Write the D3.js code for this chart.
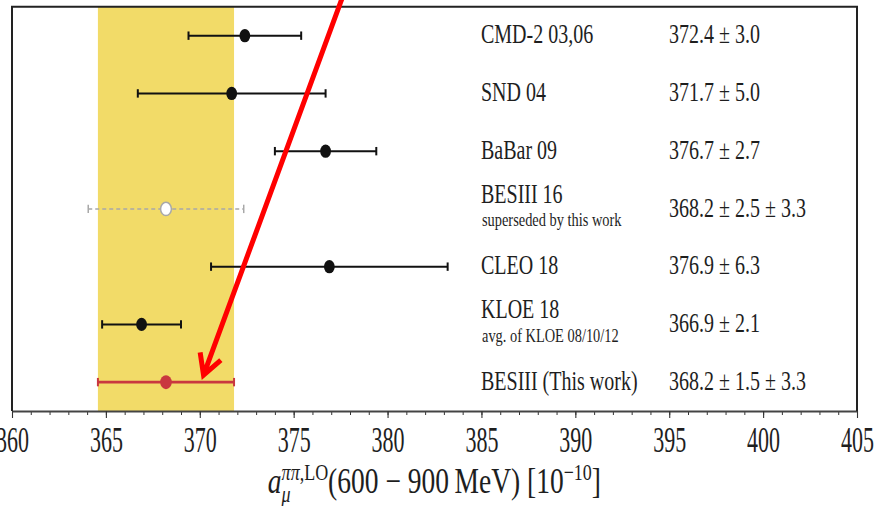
<!DOCTYPE html>
<html>
<head>
<meta charset="utf-8">
<script src="https://cdn.jsdelivr.net/npm/d3@7"></script>
<style>
  body { margin: 0; background: #fff; }
  svg { display: block; }
  text { font-family: "Liberation Serif", "DejaVu Serif", serif; fill: #1e1e1e; }
</style>
</head>
<body>
<div id="visualize"></div>
<script>
// chart values
var experiments = ["CMD-2 03,06", "SND 04", "BaBar 09", "BESIII 16", "CLEO 18", "KLOE 18", "BESIII (This work)"];
var notes = ["", "", "", "superseded by this work", "", "avg. of KLOE 08/10/12", ""];
var centralValues = [372.4, 371.7, 376.7, 368.2, 376.9, 366.9, 368.2];
var statErrors = [3.0, 5.0, 2.7, 2.5, 6.3, 2.1, 1.5];
var systErrors = [null, null, null, 3.3, null, null, 3.3];
var markerStyle = ["solid", "solid", "solid", "open", "solid", "solid", "red"];
var xTickValues = [360, 365, 370, 375, 380, 385, 390, 395, 400, 405];
var xMinorValues = d3.range(360, 406, 1);
// annotation arrow in data units [value, row]
var arrowFrom = [377.75, -0.8];
var arrowTo = [370.2, 5.88];

function totalError(i) {
  var s = statErrors[i], y = systErrors[i] || 0;
  return Math.sqrt(s * s + y * y);
}

function valueLabel(i) {
  var t = centralValues[i].toFixed(1) + " \u00b1 " + statErrors[i].toFixed(1);
  if (systErrors[i] != null) t += " \u00b1 " + systErrors[i].toFixed(1);
  return t;
}

function drawChart() {
  var width = 877, height = 506;
  var left = 12, right = 857, top = 6.8, bottom = 411;

  var rows = experiments.map(function(d, i) {
    return { name: d, note: notes[i], v: centralValues[i], err: totalError(i), style: markerStyle[i], label: valueLabel(i), i: i };
  });

  var x = d3.scaleLinear().domain([360, 405]).range([left, right]);
  var y = d3.scaleLinear().domain([-0.5, 6.5]).range([top, bottom]);

  var svg = d3.select("#visualize").append("svg")
      .attr("width", width)
      .attr("height", height);

  svg.append("rect").attr("width", width).attr("height", height).attr("fill", "#fff");

  // band of this work
  var ref = rows[rows.length - 1];
  svg.append("rect")
      .attr("x", x(ref.v - ref.err))
      .attr("y", top)
      .attr("width", x(ref.v + ref.err) - x(ref.v - ref.err))
      .attr("height", bottom - top)
      .attr("fill", "#f2db68");

  // error bars
  var bars = svg.selectAll(".bar")
      .data(rows)
    .enter().append("g")
      .attr("class", "bar")
      .attr("transform", function(d) { return "translate(0," + y(d.i) + ")"; });

  function barColor(d) {
    if (d.style == "open") return "#a8a8a8";
    if (d.style == "red") return "#c9383f";
    return "#111";
  }

  bars.append("line")
      .attr("x1", function(d) { return x(d.v - d.err); })
      .attr("x2", function(d) { return x(d.v + d.err); })
      .attr("stroke", barColor)
      .attr("stroke-width", function(d) { return d.style == "red" ? 2.6 : (d.style == "open" ? 1.5 : 2); })
      .attr("stroke-dasharray", function(d) { return d.style == "open" ? "4,3" : null; });

  [-1, 1].forEach(function(s) {
    bars.append("line")
        .attr("x1", function(d) { return x(d.v + s * d.err); })
        .attr("x2", function(d) { return x(d.v + s * d.err); })
        .attr("y1", -4.2)
        .attr("y2", 4.2)
        .attr("stroke", barColor)
        .attr("stroke-width", function(d) { return d.style == "open" ? 1.5 : 2; });
  });

  bars.append("ellipse")
      .attr("cx", function(d) { return x(d.v); })
      .attr("rx", function(d) { return d.style == "red" ? 5.8 : 5.4; })
      .attr("ry", function(d) { return d.style == "red" ? 7 : 6.7; })
      .attr("fill", function(d) { return d.style == "open" ? "#fff" : barColor(d); })
      .attr("stroke", function(d) { return d.style == "open" ? "#a8a8a8" : "none"; })
      .attr("stroke-width", 1.5);

  // labels
  var sy = 1.36;
  bars.append("text")
      .attr("transform", function(d) { return "translate(481," + (d.note ? -6 : 7.5) + ") scale(1," + sy + ")"; })
      .style("font-size", "20px")
      .text(function(d) { return d.name; });

  bars.filter(function(d) { return d.note; }).append("text")
      .attr("transform", "translate(482,17.5) scale(1," + sy + ")")
      .style("font-size", "14.4px")
      .text(function(d) { return d.note; });

  bars.append("text")
      .attr("transform", "translate(669,7.8) scale(1," + sy + ")")
      .style("font-size", "20px")
      .text(function(d) { return d.label; });

  // axis
  var xAxis = d3.axisBottom(x).tickValues(xTickValues).tickSize(7).tickSizeOuter(0).tickFormat(d3.format("d"));
  var xMinor = d3.axisBottom(x).tickValues(xMinorValues).tickSize(4).tickSizeOuter(0).tickFormat("");

  svg.append("g")
      .attr("transform", "translate(0," + bottom + ")")
      .call(xMinor)
      .call(function(g) { g.select(".domain").remove(); g.selectAll("line").attr("stroke", "#333").attr("stroke-width", 1); });

  var ax = svg.append("g")
      .attr("class", "x axis")
      .attr("transform", "translate(0," + bottom + ")")
      .call(xAxis);
  ax.attr("font-family", null).attr("font-size", null);
  ax.select(".domain").attr("stroke", "#444").attr("stroke-width", 2);
  ax.selectAll(".tick line").attr("stroke", "#333").attr("stroke-width", 1.1);
  ax.selectAll(".tick text")
      .attr("y", null).attr("dy", null)
      .attr("fill", "#1e1e1e")
      .attr("transform", "translate(0,41) scale(1,1.6)")
      .style("font-size", "22px");

  // frame
  svg.append("path")
      .attr("d", "M" + left + "," + bottom + "V" + top + "H" + right + "V" + bottom)
      .attr("fill", "none")
      .attr("stroke", "#222")
      .attr("stroke-width", 2);

  // arrow
  var p0 = [x(arrowFrom[0]), y(arrowFrom[1])];
  var p1 = [x(arrowTo[0]), y(arrowTo[1])];
  var ang = Math.atan2(p0[1] - p1[1], p0[0] - p1[0]);
  var hl = 23, ha = 0.5;
  var b1 = [p1[0] + hl * Math.cos(ang - ha), p1[1] + hl * Math.sin(ang - ha)];
  var b2 = [p1[0] + hl * Math.cos(ang + ha), p1[1] + hl * Math.sin(ang + ha)];
  svg.append("path")
      .attr("d", d3.line()([p0, p1]) + "M" + b1 + "L" + p1 + "L" + b2)
      .attr("fill", "none")
      .attr("stroke", "#ff0000")
      .attr("stroke-width", 5)
      .attr("stroke-linejoin", "miter")
      .attr("stroke-linecap", "butt");

  // axis title
  var title = svg.append("g");
  var tt = title.append("text").style("font-size", "27.5px");
  var tA = tt.append("tspan").style("font-style", "italic").text("a");
  var tSup = tt.append("tspan").attr("dy", -10).style("font-size", "18px");
  tSup.append("tspan").style("font-style", "italic").text("\u03c0\u03c0");
  tSup.append("tspan").text(",LO");
  tt.append("tspan").attr("dy", 10).text("(600 \u2212 900\u2009MeV) [10");
  tt.append("tspan").attr("dy", -10).style("font-size", "18px").text("\u221210");
  tt.append("tspan").attr("dy", 10).text("]");
  var aw = tA.node().getComputedTextLength();
  title.append("text")
      .attr("x", aw)
      .attr("y", 7)
      .style("font-size", "18px")
      .style("font-style", "italic")
      .text("\u03bc");
  var tw = tt.node().getComputedTextLength();
  title.attr("transform", "translate(" + ((left + right) / 2 - tw / 2) + ",493) scale(1,1.28)");
}

drawChart();
</script>
</body>
</html>
